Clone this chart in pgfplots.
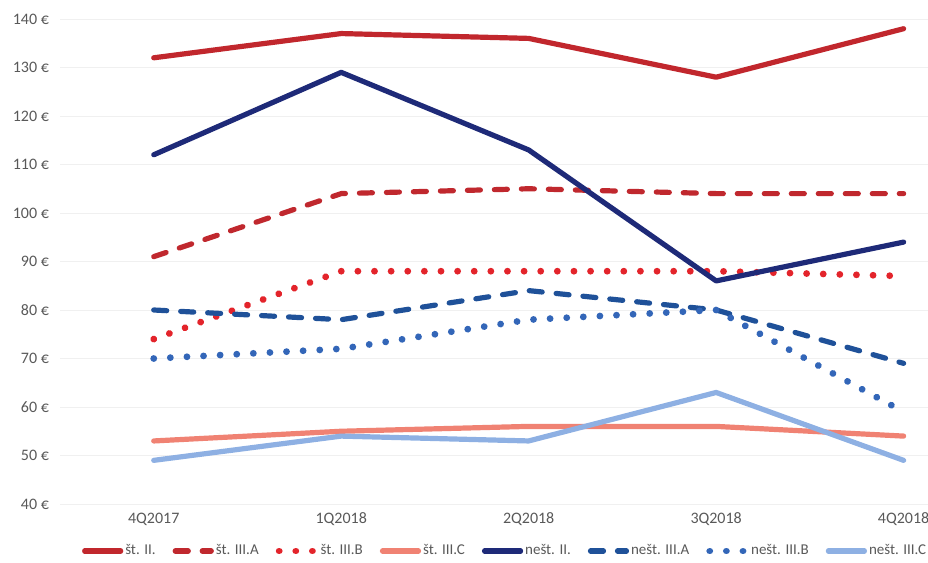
\documentclass[border=0pt]{standalone}
\usepackage{pgfplots}
\pgfplotsset{compat=1.18}
\usepackage{fontspec}
\setmainfont{Carlito}

\definecolor{stII}{HTML}{C1272D}
\definecolor{stIIIA}{HTML}{C0282E}
\definecolor{stIIIB}{HTML}{E3242B}
\definecolor{stIIIC}{HTML}{F08273}
\definecolor{nstII}{HTML}{1E2A78}
\definecolor{nstIIIA}{HTML}{1F5199}
\definecolor{nstIIIB}{HTML}{3366B8}
\definecolor{nstIIIC}{HTML}{8EB0E3}
\definecolor{txt}{HTML}{595959}

\tikzset{
  solidl/.style={line width=2.6pt, line cap=round, line join=round},
  dashl/.style={line width=2.6pt, line cap=round, line join=round, dash pattern=on 6.5pt off 7pt},
  dotl/.style={line width=3.4pt, line cap=round, line join=round, dash pattern=on 0.01pt off 8.3pt},
}

\begin{document}
\begin{tikzpicture}
\begin{axis}[
  name=ax,
  scale only axis,
  width=434pt, height=242.5pt,
  xmin=-0.5, xmax=4.13,
  ymin=40, ymax=140,
  xtick={0,1,2,3,4},
  xticklabels={4Q2017,1Q2018,2Q2018,3Q2018,4Q2018},
  ytick={40,50,...,140},
  yticklabel={\pgfmathprintnumber{\tick}~€},
  /pgf/number format/assume math mode=true,
  tick label style={font=\fontsize{8}{9}\selectfont, text=txt},
  xticklabel style={yshift=-1pt},
  yticklabel style={xshift=-2pt},
  axis line style={draw=none},
  major tick length=0pt,
  ymajorgrids,
  grid style={draw=black!6, line width=0.4pt},
  clip=false,
  legend columns=8,
  legend style={draw=none, at={(0.514,-0.097)}, anchor=center,
    font=\fontsize{7.5}{9}\selectfont, text=txt,
    /tikz/every even column/.append style={column sep=6.5pt},
    /tikz/every odd column/.append style={column sep=-1pt}},
  legend image code/.code={\draw[#1] (0pt,0pt) -- (18pt,0pt);},
]
\addplot[stII, solidl] coordinates {(0,132) (1,137) (2,136) (3,128) (4,138)};
\addlegendentry{št. II.}
\addplot[stIIIA, dashl] coordinates {(0,91) (1,104) (2,105) (3,104) (4,104)};
\addlegendentry{št. III.A}
\addplot[stIIIB, dotl] coordinates {(0,74) (1,88) (2,88) (3,88) (4,87)};
\addlegendentry{št. III.B}
\addplot[stIIIC, solidl] coordinates {(0,53) (1,55) (2,56) (3,56) (4,54)};
\addlegendentry{št. III.C}
\addplot[nstII, solidl] coordinates {(0,112) (1,129) (2,113) (3,86) (4,94)};
\addlegendentry{nešt. II.}
\addplot[nstIIIA, dashl] coordinates {(0,80) (1,78) (2,84) (3,80) (4,69)};
\addlegendentry{nešt. III.A}
\addplot[nstIIIB, dotl] coordinates {(0,70) (1,72) (2,78) (3,80) (4,59)};
\addlegendentry{nešt. III.B}
\addplot[nstIIIC, solidl] coordinates {(0,49) (1,54) (2,53) (3,63) (4,49)};
\addlegendentry{nešt. III.C}
\end{axis}
\pgfresetboundingbox
\path (-30pt,-29.5pt) rectangle (434pt,252pt);
\end{tikzpicture}
\end{document}
